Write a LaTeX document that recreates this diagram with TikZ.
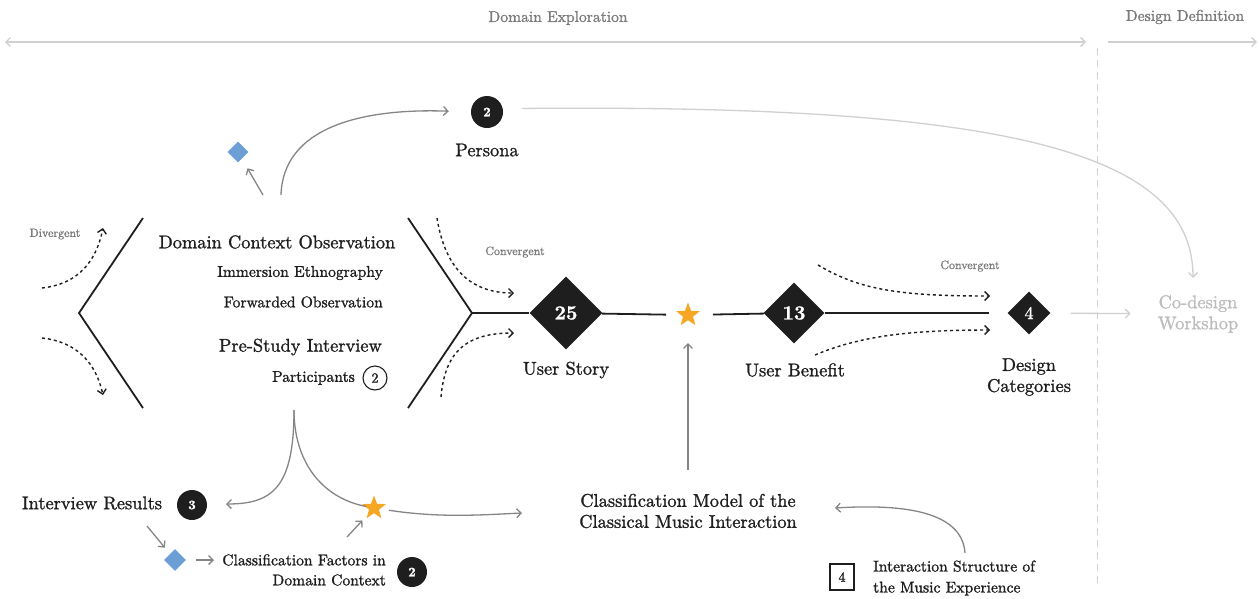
\documentclass[tikz,border=0pt]{standalone}
\usepackage{fontspec}
\setmainfont{lmroman10-regular.otf}[BoldFont=lmroman10-bold.otf,RawFeature={embolden=1.3}]
\usetikzlibrary{arrows.meta,shapes.geometric}
\definecolor{ink}{HTML}{1E1E1E}
\definecolor{conn}{HTML}{858585}
\definecolor{faint}{HTML}{D0D0D0}
\definecolor{faintText}{HTML}{BCBCBC}
\definecolor{capText}{HTML}{7A7A7A}
\definecolor{starOrange}{HTML}{F5A623}
\definecolor{markBlue}{HTML}{6B9FD6}
\begin{document}
\begin{tikzpicture}[x=1pt,y=-1pt,
  barb/.tip={Straight Barb[length=4.5pt,width=9pt]},
  heading/.style={font=\fontsize{15.6}{19}\selectfont,text=capText,inner sep=0},
  big/.style={font=\fontsize{18.4}{21}\selectfont,text=ink,inner sep=0},
  mid/.style={font=\fontsize{15.6}{21}\selectfont,text=ink,inner sep=0},
  tiny/.style={font=\fontsize{12}{14}\selectfont,text=capText,inner sep=0},
  chev/.style={ink,line width=1.8pt,line join=miter},
  mainline/.style={ink,line width=1.8pt},
  dotarrow/.style={ink,line width=1.4pt,dash pattern=on 3pt off 3pt,-barb},
  conntip/.style={conn,line width=1.3pt,-barb},
  faintline/.style={faint,line width=1.3pt},
  bigdia/.style={diamond,fill=ink,inner sep=0,text=white,
     font=\fontsize{20}{20}\selectfont\bfseries},
  bluedia/.style={diamond,fill=markBlue,inner sep=0,minimum size=21pt},
  orstar/.style={star,star points=5,star point ratio=2.4,fill=starOrange,
     inner sep=0,minimum size=25pt},
  dot/.style={circle,fill=ink,inner sep=0,minimum size=31pt,text=white,
     font=\fontsize{13}{13}\selectfont\bfseries},
  ring/.style={circle,draw=ink,line width=1.1pt,inner sep=0,minimum size=24pt,
     text=ink,font=\fontsize{14}{14}\selectfont}
]
\useasboundingbox (0,0) rectangle (1259,598);

% phase headings and their spans
\node[heading] (domEx) at (558,18) {Domain Exploration};
\node[heading] (desDef) at (1185,17) {Design Definition};
\coordinate (exL) at (5,42);
\coordinate (exR) at (1086,42);
\coordinate (ddL) at (1108,42);
\coordinate (ddR) at (1257,42);
\draw[faintline,barb-barb] (exL) -- (exR);
\draw[faintline,-barb] (ddL) -- (ddR);
\coordinate (sepTop) at (1097,48);
\coordinate (sepBot) at (1097,588);
\draw[faint,line width=1pt,dash pattern=on 7pt off 5pt] (sepTop) -- (sepBot);

% divergent / convergent brackets
\coordinate (cLt) at (143,218);
\coordinate (cLm) at (79,313);
\coordinate (cLb) at (143,408);
\coordinate (cRt) at (408,218);
\coordinate (cRm) at (472,313);
\coordinate (cRb) at (408,408);
\draw[chev] (cLt) -- (cLm) -- (cLb);
\draw[chev] (cRt) -- (cRm) -- (cRb);

\node[tiny] (divLbl) at (55,234) {Divergent};
\coordinate (dvA0) at (42,288);
\coordinate (dvA1) at (103,228);
\coordinate (dvB0) at (42,338);
\coordinate (dvB1) at (103,395);
\draw[dotarrow] (dvA0) .. controls (78,284) and (96,262) .. (dvA1);
\draw[dotarrow] (dvB0) .. controls (78,342) and (96,364) .. (dvB1);

\node[tiny] (cvLbl1) at (515,252) {Convergent};
\coordinate (cvA0) at (437,218);
\coordinate (cvA1) at (514,293);
\coordinate (cvB0) at (441,397);
\coordinate (cvB1) at (514,333);
\draw[dotarrow] (cvA0) .. controls (445,268) and (470,293) .. (cvA1);
\draw[dotarrow] (cvB0) .. controls (445,350) and (468,333) .. (cvB1);

\node[tiny] (cvLbl2) at (970,266) {Convergent};
\coordinate (cvC0) at (818,265);
\coordinate (cvC1) at (990,296);
\coordinate (cvD0) at (815,355);
\coordinate (cvD1) at (990,330);
\draw[dotarrow] (cvC0) .. controls (860,290) and (900,296) .. (cvC1);
\draw[dotarrow] (cvD0) .. controls (860,336) and (910,330) .. (cvD1);

% study block
\node[big] (domCtx) at (277,242) {Domain Context Observation};
\node[mid,anchor=east] (immEth) at (383,273) {Immersion Ethnography};
\node[mid,anchor=east] (fwdObs) at (383,302) {Forwarded Observation};
\node[big,anchor=east] (preStudy) at (382,347) {Pre-Study Interview};
\node[mid,anchor=east] (partic) at (355,378) {Participants};
\node[ring] (partCirc) at (375,378) {2};

% persona
\node[dot,minimum size=32pt] (pCirc) at (487,112) {2};
\node[big] (persona) at (487,150) {Persona};
\node[bluedia] (bd1) at (238,152) {};
\coordinate (obsTopA) at (263,195);
\coordinate (obsTopB) at (281,195);
\draw[conntip,shorten >=11pt] (obsTopA) -- (bd1);
\draw[conntip,shorten >=22pt] (obsTopB) .. controls (283,128) and (360,108) .. (pCirc.west);

% main flow
\node[bigdia,minimum size=73pt] (d25) at (566,313) {25};
\node[orstar] (starA) at (688,315) {};
\node[bigdia,minimum size=61pt] (d13) at (794,313) {13};
\node[bigdia,minimum size=43pt,font=\fontsize{18}{18}\selectfont] (d4) at (1029,313) {4};
\node[big] (userStory) at (566,370) {User Story};
\node[big] (userBen) at (795,370) {User Benefit};
\node[big,align=center] (designCat) at (1029,377) {Design\\Categories};
\node[big,align=center,text=faintText] (codesign) at (1198,314) {Co-design\\Workshop};

\draw[mainline] (cRm) -- (d25);
\draw[mainline,shorten >=22pt] (d25) -- (starA.center);
\draw[mainline,shorten <=25pt] (starA.center) -- (d13);
\draw[mainline,shorten >=18pt] (d13) -- (d4);
\draw[faintline,-barb,shorten <=20pt,shorten >=27pt] (d4) -- (codesign);

\coordinate (cdIn) at (1193,278);
\draw[faintline,-barb,shorten <=19pt] (pCirc.12) .. controls (1000,104) and (1193,150) .. (cdIn);

% interview outcomes
\coordinate (prsOut) at (294,410);
\node[big] (intRes) at (92,503) {Interview Results};
\node[dot,minimum size=30pt] (circ3) at (192,505) {3};
\coordinate (irIn) at (226,504);
\node[orstar] (starB) at (374,508) {};
\draw[conntip] (prsOut) .. controls (294,488) and (272,504) .. (irIn);
\draw[conn,line width=1.3pt,shorten >=8pt] (prsOut) .. controls (294,462) and (322,498) .. (starB.center);

\node[bluedia,minimum size=22pt] (bd2) at (175,560) {};
\coordinate (irOut) at (147,526);
\draw[conntip,shorten >=8pt] (irOut) -- (bd2);
\node[mid,align=right,anchor=east,font=\fontsize{15.6}{20}\selectfont] (classFac) at (386,570)
  {Classification Factors in\\Domain Context};
\node[dot,minimum size=30pt] (circ2) at (412,572) {2};
\coordinate (cfIn) at (214,560);
\draw[conntip,shorten <=10pt] (bd2) -- (cfIn);
\coordinate (cfOut) at (347,537);
\draw[conntip,shorten >=17pt] (cfOut) -- (starB.center);

% classification model
\node[big,align=center] (model) at (688,511)
  {Classification Model of the\\Classical Music Interaction};
\coordinate (mdLeft) at (522,513);
\draw[conntip,shorten <=15pt] (starB.center) .. controls (440,518) and (480,515) .. (mdLeft);
\draw[conntip,shorten <=24pt,shorten >=28pt] (model) -- (starA.center);

\node[draw=ink,line width=1.1pt,minimum width=24pt,minimum height=26pt,inner sep=0,
  text=ink,font=\fontsize{14}{14}\selectfont] (box4) at (842,577) {4};
\node[mid,align=left,anchor=west] (interStr) at (873,578)
  {Interaction Structure of\\the Music Experience};
\coordinate (isOut) at (965,553);
\coordinate (mdIn) at (835,508);
\draw[conntip] (isOut) .. controls (962,510) and (900,504) .. (mdIn);
\end{tikzpicture}
\end{document}
